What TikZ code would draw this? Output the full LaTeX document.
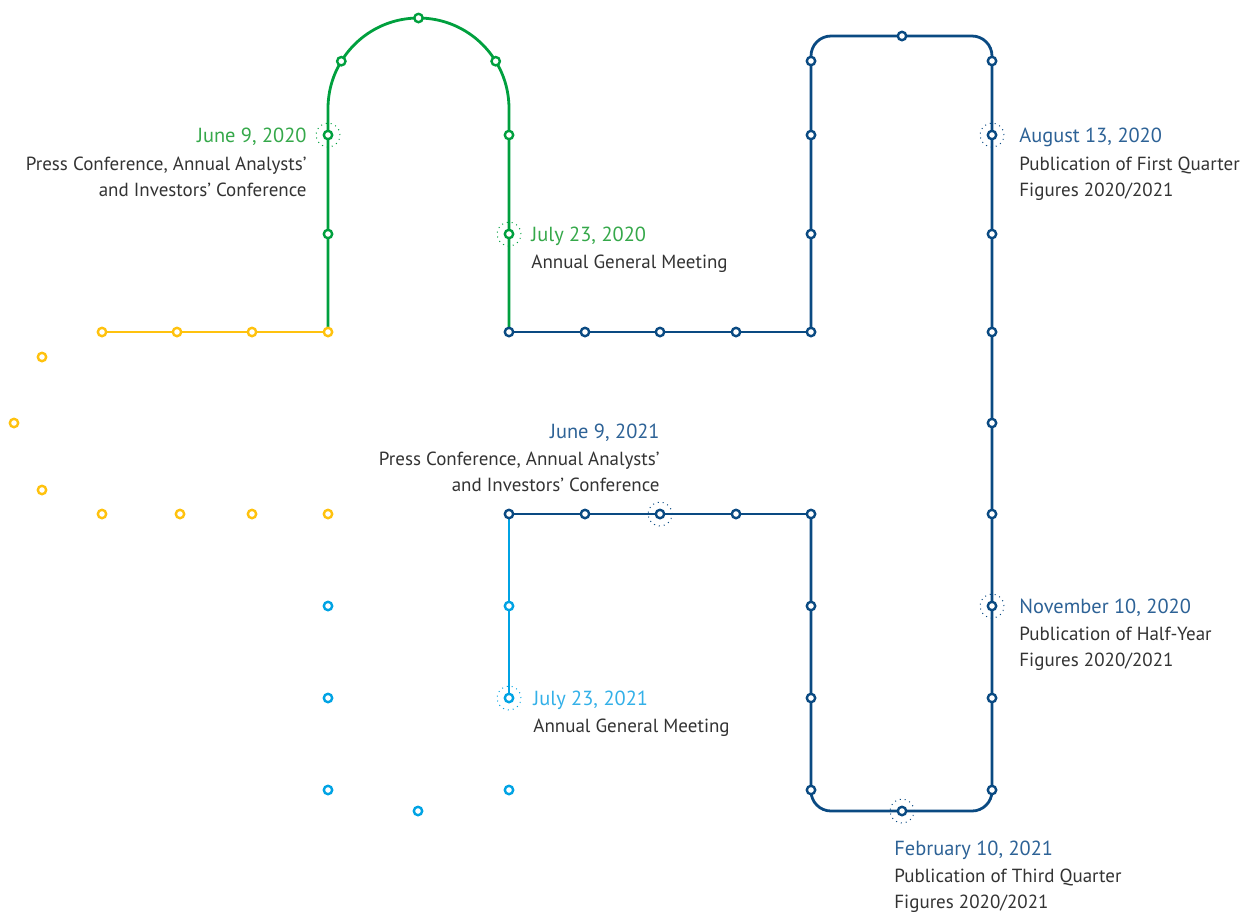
\documentclass[tikz,border=0pt]{standalone}
\usepackage{fontspec}
\setmainfont{PT Sans}
\usetikzlibrary{calc}
\definecolor{gline}{HTML}{00A03E}
\definecolor{gtext}{HTML}{35A84A}
\definecolor{nline}{HTML}{0A4A82}
\definecolor{ntext}{HTML}{2D6296}
\definecolor{bline}{HTML}{00A3E4}
\definecolor{btext}{HTML}{33B0E8}
\definecolor{yline}{HTML}{FFC20E}
\definecolor{dtext}{HTML}{333333}
\pgfdeclarelayer{bg}
\pgfsetlayers{bg,main}
\tikzset{
  st/.style={circle, draw=#1, fill=white, line width=1.2pt, inner sep=0pt, minimum size=4.2pt},
  hl/.style={circle, draw=#1, dotted, line width=0.5pt, inner sep=0pt, minimum size=12pt},
  track/.style={draw=#1, line width=1.4pt},
  datetxt/.style={font=\fontsize{10.2}{12}\selectfont, text=#1, inner sep=0pt},
  desctxt/.style={font=\fontsize{9.5}{11}\selectfont, text=dtext, inner sep=0pt},
}
\begin{document}
\begin{tikzpicture}[x=0.5pt,y=-0.5pt]
\useasboundingbox (0,0) rectangle (1243,912);
% yellow stations
\node[st=yline] (y1) at (102,332) {};
\node[st=yline] (y2) at (177,332) {};
\node[st=yline] (y3) at (252,332) {};
\node[st=yline] (y4) at (328,332) {};
\node[st=yline] (y5) at (42,357) {};
\node[st=yline] (y6) at (14,423) {};
\node[st=yline] (y7) at (42,490) {};
\node[st=yline] (y8) at (102,514) {};
\node[st=yline] (y9) at (180,514) {};
\node[st=yline] (y10) at (252,514) {};
\node[st=yline] (y11) at (328,514) {};
% green stations
\node[st=gline] (g1) at (328,234) {};
\node[st=gline] (g2) at (328,135) {};
\node[st=gline] (g3) at (341.3,61.2) {};
\node[st=gline] (g4) at (418.5,18) {};
\node[st=gline] (g5) at (495.7,61.2) {};
\node[st=gline] (g6) at (509,135) {};
\node[st=gline] (g7) at (509,234) {};
\node[hl=gline] (hg2) at (g2) {};
\node[hl=gline] (hg7) at (g7) {};
\coordinate (ga) at (328,108.5);
% navy stations
\node[st=nline] (n1) at (509,332) {};
\node[st=nline] (n2) at (585,332) {};
\node[st=nline] (n3) at (660,332) {};
\node[st=nline] (n4) at (736,332) {};
\node[st=nline] (n5) at (811,332) {};
\node[st=nline] (n6) at (811,234) {};
\node[st=nline] (n7) at (811,135) {};
\node[st=nline] (n8) at (811,61) {};
\node[st=nline] (n9) at (902,36) {};
\node[st=nline] (n10) at (992,61) {};
\node[st=nline] (n11) at (992,135) {};
\node[st=nline] (n12) at (992,234) {};
\node[st=nline] (n13) at (992,332) {};
\node[st=nline] (n14) at (992,423) {};
\node[st=nline] (n15) at (992,514) {};
\node[st=nline] (n16) at (992,606) {};
\node[st=nline] (n17) at (992,698) {};
\node[st=nline] (n18) at (992,790) {};
\node[st=nline] (n19) at (902,811) {};
\node[st=nline] (n20) at (811,790) {};
\node[st=nline] (n21) at (811,698) {};
\node[st=nline] (n22) at (811,606) {};
\node[st=nline] (n23) at (811,514) {};
\node[st=nline] (n24) at (736,514) {};
\node[st=nline] (n25) at (660,514) {};
\node[st=nline] (n26) at (585,514) {};
\node[st=nline] (n27) at (509,514) {};
\node[hl=nline] (hn11) at (n11) {};
\node[hl=nline] (hn16) at (n16) {};
\node[hl=nline] (hn19) at (n19) {};
\node[hl=nline] (hn25) at (n25) {};
\coordinate (ctl) at (811,36);
\coordinate (ctr) at (992,36);
\coordinate (cbr) at (992,811);
\coordinate (cbl) at (811,811);
% light blue stations
\node[st=bline] (b1) at (509,606) {};
\node[st=bline] (b2) at (509,698) {};
\node[st=bline] (b3) at (328,606) {};
\node[st=bline] (b4) at (328,698) {};
\node[st=bline] (b5) at (328,790) {};
\node[st=bline] (b6) at (418,811) {};
\node[st=bline] (b7) at (509,790) {};
\node[hl=bline] (hb2) at (b2) {};
% tracks
\begin{pgfonlayer}{bg}
\draw[track=yline] (y1.center) -- (y4.center);
\draw[track=gline] (y4.center) -- (ga) arc[start angle=180, end angle=360, radius=90.5] -- (n1.center);
\draw[track=nline] (n1.center) -- (n5.center);
\draw[track=nline, rounded corners=10pt] (n5.center) -- (ctl) -- (ctr) -- (cbr) -- (cbl) -- (n23.center);
\draw[track=nline] (n23.center) -- (n27.center);
\draw[track=bline] (n27.center) -- (b2.center);
\end{pgfonlayer}
% labels
\node[datetxt=gtext, anchor=base east] (t1a) at (307,142.5) {June 9, 2020};
\node[desctxt, anchor=base east] (t1b) at (307,170) {Press Conference, Annual Analysts’};
\node[desctxt, anchor=base east] (t1c) at (307,196) {and Investors’ Conference};
\node[datetxt=gtext, anchor=base west] (t2a) at (531,241.5) {July 23, 2020};
\node[desctxt, anchor=base west] (t2b) at (531,268) {Annual General Meeting};
\node[datetxt=ntext, anchor=base west] (t3a) at (1019,142.5) {August 13, 2020};
\node[desctxt, anchor=base west] (t3b) at (1019,170) {Publication of First Quarter};
\node[desctxt, anchor=base west] (t3c) at (1019,196) {Figures 2020/2021};
\node[datetxt=ntext, anchor=base east] (t4a) at (660,438) {June 9, 2021};
\node[desctxt, anchor=base east] (t4b) at (660,465) {Press Conference, Annual Analysts’};
\node[desctxt, anchor=base east] (t4c) at (660,491) {and Investors’ Conference};
\node[datetxt=btext, anchor=base west] (t5a) at (533,705.5) {July 23, 2021};
\node[desctxt, anchor=base west] (t5b) at (533,732) {Annual General Meeting};
\node[datetxt=ntext, anchor=base west] (t6a) at (1019,613) {November 10, 2020};
\node[desctxt, anchor=base west] (t6b) at (1019,640) {Publication of Half-Year};
\node[desctxt, anchor=base west] (t6c) at (1019,666) {Figures 2020/2021};
\node[datetxt=ntext, anchor=base west] (t7a) at (894,855) {February 10, 2021};
\node[desctxt, anchor=base west] (t7b) at (894,882) {Publication of Third Quarter};
\node[desctxt, anchor=base west] (t7c) at (894,908) {Figures 2020/2021};
\end{tikzpicture}
\end{document}
